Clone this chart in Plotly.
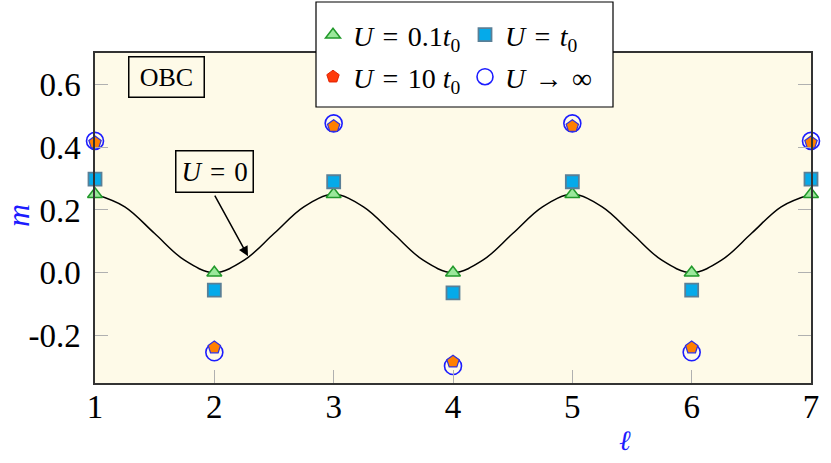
import plotly.graph_objects as go

# ── data ────────────────────────────────────────────────────────────────
sites = [1, 2, 3, 4, 5, 6, 7]

m_u01 = [0.25, 0.0, 0.25, 0.0, 0.25, 0.0, 0.25]            # U = 0.1 t0
m_u1 = [0.298, -0.055, 0.29, -0.064, 0.29, -0.055, 0.298]   # U = t0
m_u10 = [0.415, -0.238, 0.467, -0.283, 0.467, -0.238, 0.415]  # U = 10 t0
m_uinf = [0.42, -0.253, 0.476, -0.297, 0.476, -0.253, 0.42]   # U -> inf

# U = 0 curve, sampled every quarter site
curve_x = [1, 1.25, 1.5, 1.75, 2, 2.25, 2.5, 2.75, 3, 3.25, 3.5, 3.75, 4,
           4.25, 4.5, 4.75, 5, 5.25, 5.5, 5.75, 6, 6.25, 6.5, 6.75, 7]
curve_m = [0.25, 0.21, 0.125, 0.04, 0.0, 0.04, 0.125, 0.21, 0.25, 0.21,
           0.125, 0.04, 0.0, 0.04, 0.125, 0.21, 0.25, 0.21, 0.125, 0.04,
           0.0, 0.04, 0.125, 0.21, 0.25]

y_ticks = [-0.2, 0.0, 0.2, 0.4, 0.6]
y_ticktext = ["-0.2", "0.0", "0.2", "0.4", "0.6"]

# ── styling ─────────────────────────────────────────────────────────────
SERIF = "Liberation Serif"
BLUE = "#1c1cff"
SP = "\u2004"  # a bit wider than a normal space, like TeX math spacing
W, H = 831, 463
L, R, T, B = 95, 20, 53, 80


# pixel -> container / paper fractions
def cx(p):
    return p / W


def cy(p):
    return 1 - p / H


def pxp(p):
    return (p - L) / (W - L - R)


def pyp(p):
    return (H - B - p) / (H - T - B)


fig = go.Figure()

fig.add_trace(go.Scatter(
    x=curve_x, y=curve_m, mode="lines", line_shape="spline",
    line=dict(color="black", width=1.5), showlegend=False, hoverinfo="skip",
))

fig.add_trace(go.Scatter(
    x=sites, y=m_u01, mode="markers",
    name=f"<i>U</i>{SP}={SP}0.1<i>t</i><sub>0</sub>",
    marker=dict(symbol="triangle-up", size=13, color="#9be89b",
                line=dict(color="#22992b", width=1.5)),
    legend="legend", cliponaxis=False,
))
fig.add_trace(go.Scatter(
    x=sites, y=m_u1, mode="markers",
    name=f"<i>U</i>{SP}={SP}<i>t</i><sub>0</sub>",
    marker=dict(symbol="square", size=13, color="#05aaea",
                line=dict(color="#5a7f96", width=1.8)),
    legend="legend", cliponaxis=False,
))
# legend-only entry for U = 10 t0 (drawn red in the legend)
fig.add_trace(go.Scatter(
    x=[None], y=[None], mode="markers",
    name=f"<i>U</i>{SP}={SP}10 <i>t</i><sub>0</sub>",
    marker=dict(symbol="pentagon", size=13, color="#ff3a0a",
                line=dict(color="#e02000", width=1)),
    legend="legend2",
))
fig.add_trace(go.Scatter(
    x=sites, y=m_uinf, mode="markers", name=f"<i>U</i>{SP}→{SP}∞",
    marker=dict(symbol="circle-open", size=17, color=BLUE,
                line=dict(color=BLUE, width=1.6)),
    legend="legend2", cliponaxis=False,
))
fig.add_trace(go.Scatter(
    x=sites, y=m_u10, mode="markers", showlegend=False,
    marker=dict(symbol="pentagon", size=13, color="#ff8000",
                line=dict(color="#3030e0", width=1.2)),
    cliponaxis=False,
))

legend_style = dict(
    orientation="h", xanchor="left", yanchor="middle",
    xref="container", yref="container",
    bgcolor="rgba(0,0,0,0)", borderwidth=0,
    font=dict(family=SERIF, size=28, color="black"),
    entrywidthmode="pixels", entrywidth=107,
    itemsizing="trace",
)

fig.update_layout(
    width=W, height=H,
    margin=dict(l=L, r=R, t=T, b=B, autoexpand=False),
    paper_bgcolor="white",
    plot_bgcolor="#fefae8",
    font=dict(family=SERIF, size=33, color="black"),
    legend=dict(x=cx(313), y=cy(35), **legend_style),
    legend2=dict(x=cx(313), y=cy(77), **legend_style),
    xaxis=dict(
        range=[1, 7], tickvals=sites, showgrid=False, zeroline=False,
        showline=True, linecolor="#333", linewidth=1.5, mirror=True,
        ticks="inside", ticklen=13, tickcolor="#b0b0b0", tickwidth=1,
        ticklabelstandoff=-6, automargin=False,
        tickfont=dict(family=SERIF, size=33),
    ),
    yaxis=dict(
        range=[-0.351, 0.70], tickvals=y_ticks, ticktext=y_ticktext,
        showgrid=False, zeroline=False,
        showline=True, linecolor="#333", linewidth=1.5, mirror="ticks",
        ticks="inside", ticklen=13, tickcolor="#b0b0b0", tickwidth=1,
        ticklabelstandoff=6, automargin=False,
        tickfont=dict(family=SERIF, size=33),
    ),
    shapes=[dict(
        type="rect", xref="paper", yref="paper", layer="above",
        x0=pxp(316), x1=pxp(613), y0=pyp(107), y1=pyp(2),
        fillcolor="white", line=dict(color="black", width=1.2),
    )],
    annotations=[
        dict(text="\u2009OBC\u2009", xref="paper", yref="paper",
             x=pxp(166.5), y=pyp(77), xanchor="center", yanchor="middle",
             showarrow=False,
             font=dict(family=SERIF, size=26),
             bgcolor="rgba(0,0,0,0)", bordercolor="black", borderwidth=1.5,
             borderpad=5),
        dict(text=f"<i>U</i>{SP}={SP}0", xref="paper", yref="paper",
             x=pxp(214.5), y=pyp(171.5), xanchor="center", yanchor="middle",
             showarrow=False,
             font=dict(family=SERIF, size=27),
             bgcolor="#fefae8", bordercolor="black", borderwidth=1.5,
             borderpad=5),
        dict(text="", x=2.282, y=0.053, xref="x", yref="y",
             showarrow=True, arrowhead=2, arrowsize=1.3, arrowwidth=1.5,
             arrowcolor="black", ax=-34, ay=-62),
        dict(text="<i>m</i>", xref="paper", yref="paper",
             x=pxp(18), y=pyp(216), xanchor="center", yanchor="middle",
             showarrow=False, textangle=-90,
             font=dict(family=SERIF, size=32, color=BLUE)),
        dict(text="<i>ℓ</i>", xref="paper", yref="paper",
             x=pxp(625), y=pyp(440), xanchor="center", yanchor="middle",
             showarrow=False,
             font=dict(family=SERIF, size=28, color=BLUE)),
    ],
)

fig.write_html("out.html", config={"displayModeBar": False},
               post_script="document.body.style.margin='0';")
